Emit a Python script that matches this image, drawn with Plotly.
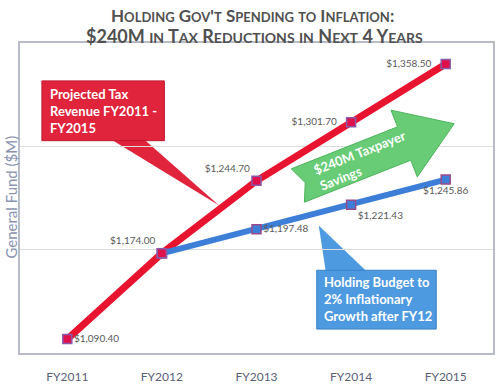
import math
import plotly.graph_objects as go

years = ["FY2011", "FY2012", "FY2013", "FY2014", "FY2015"]
revenue = [1090.40, 1174.00, 1244.70, 1301.70, 1358.50]
budget_years = ["FY2012", "FY2013", "FY2014", "FY2015"]
budget = [1174.00, 1197.48, 1221.43, 1245.86]

W, H = 500, 389
L, R, T, B = 20, 5, 43, 35
PW, PH = W - L - R, H - T - B

def px(x):
    return (x - L) / PW

def py(y):
    return (H - B - y) / PH

def fmt(v):
    return "${:,.2f}".format(v)

rev_pos = ["middle right", "top left", "top left", "middle left", "middle left"]
rev_text = []
for v, p in zip(revenue, rev_pos):
    t = fmt(v)
    if p == "middle left":
        t = t + "&nbsp;&nbsp;&nbsp;"
    rev_text.append(t)

fig = go.Figure()

fig.add_trace(go.Scatter(
    x=years, y=revenue, mode="lines+markers+text",
    line=dict(color="#e8132f", width=7),
    marker=dict(symbol="square", size=9, color="#e0104a",
                line=dict(color="#8a5aa8", width=1.5)),
    text=rev_text,
    textposition=rev_pos,
    textfont=dict(family="Lato, sans-serif", size=10, color="#5a5a5a"),
    showlegend=False, cliponaxis=False,
))
fig.add_trace(go.Scatter(
    x=budget_years, y=budget, mode="lines+markers+text",
    line=dict(color="#3d7fd8", width=6),
    marker=dict(symbol="square", size=9, color="#3d7fd8",
                line=dict(color="#9a4a8a", width=1.5)),
    text=[""] + [fmt(v) for v in budget[1:]],
    textposition=["top left", "middle right", "bottom right", "bottom center"],
    textfont=dict(family="Lato, sans-serif", size=10, color="#5a5a5a"),
    showlegend=False, cliponaxis=False,
))
fig.add_trace(go.Scatter(
    x=years[1:2], y=revenue[1:2], mode="markers",
    marker=dict(symbol="square", size=9, color="#e0104a",
                line=dict(color="#8a5aa8", width=1.5)),
    showlegend=False, hoverinfo="skip",
))

shapes = []
def poly(pts):
    return "M " + " L ".join("{:.4f},{:.4f}".format(px(a), py(b)) for a, b in pts) + " Z"

shapes.append(dict(type="path", xref="paper", yref="paper",
                   path=poly([(112, 140), (145, 140), (220, 206)]),
                   fillcolor="#e0243c", line=dict(width=0), layer="below"))
shapes.append(dict(type="rect", xref="paper", yref="paper",
                   x0=px(42), x1=px(165), y0=py(141), y1=py(81),
                   fillcolor="#e0243c", line=dict(color="#c01830", width=1), layer="below"))
shapes.append(dict(type="path", xref="paper", yref="paper",
                   path=poly([(327, 272), (368, 272), (320, 226)]),
                   fillcolor="#4e9ae0", line=dict(width=0), layer="below"))
shapes.append(dict(type="rect", xref="paper", yref="paper",
                   x0=px(318), x1=px(438), y0=py(330), y1=py(271),
                   fillcolor="#4e9ae0", line=dict(color="#3a80c8", width=1), layer="below"))
tail = (299, 186)
tip = (456, 124)
ang = math.atan2(tip[1] - tail[1], tip[0] - tail[0])
Lg = math.hypot(tip[0] - tail[0], tip[1] - tail[1])
ux, uy = math.cos(ang), math.sin(ang)
vx, vy = -uy, ux
def loc(u, v):
    return (tail[0] + u * ux + v * vx, tail[1] + u * uy + v * vy)
hw, hh, hl, notch = 18, 36, 54, 8
pts = [loc(0, -hw), loc(Lg - hl, -hw), loc(Lg - hl, -hh), loc(Lg, 0),
       loc(Lg - hl, hh), loc(Lg - hl, hw), loc(0, hw), loc(notch, 0)]
shapes.append(dict(type="path", xref="paper", yref="paper", path=poly(pts),
                   fillcolor="#68cc76", line=dict(color="#4db45c", width=1)))

annotations = [
    dict(x=px(48), y=py(111), xref="paper", yref="paper", xanchor="left", yanchor="middle",
         align="left", showarrow=False,
         text="<b>Projected Tax<br>Revenue FY2011 -<br>FY2015</b>",
         font=dict(family="Lato, sans-serif", size=13, color="white")),
    dict(x=px(323), y=py(300), xref="paper", yref="paper", xanchor="left", yanchor="middle",
         align="left", showarrow=False,
         text="<b>Holding Budget to<br>2% Inflationary<br>Growth after FY12</b>",
         font=dict(family="Lato, sans-serif", size=13, color="white")),
    dict(x=px(364), y=py(161), xref="paper", yref="paper", xanchor="center", yanchor="middle",
         align="left", showarrow=False, textangle=math.degrees(ang),
         text="<b>$240M Taxpayer<br>Savings</b>",
         font=dict(family="Lato, sans-serif", size=13, color="white")),
    dict(x=px(10), y=py(198), xref="paper", yref="paper", xanchor="center", yanchor="middle",
         showarrow=False, textangle=-90, text="General Fund ($M)",
         font=dict(family="Lato, sans-serif", size=15, color="#8a93b0")),
]

def sc(s, small=14):
    out = []
    for word in s.split(" "):
        w = ""
        for ch in word:
            if ch.islower():
                w += "<span style='font-size:%dpx'>%s</span>" % (small, ch.upper())
            else:
                w += ch
        out.append(w)
    return " ".join(out)

annotations.append(dict(x=px(253), y=py(15), xref="paper", yref="paper",
                        xanchor="center", yanchor="middle", showarrow=False,
                        text="<b>" + sc("Holding Gov't Spending to Inflation:", 13) + "</b>",
                        font=dict(family="Lato, sans-serif", size=17, color="#505050")))
annotations.append(dict(x=px(255), y=py(36), xref="paper", yref="paper",
                        xanchor="center", yanchor="middle", showarrow=False,
                        text="<b>" + sc("$240M in Tax Reductions in Next 4 Years", 14) + "</b>",
                        font=dict(family="Lato, sans-serif", size=18, color="#505050")))

fig.update_layout(
    width=W, height=H,
    margin=dict(l=L, r=R, t=T, b=B),
    paper_bgcolor="white", plot_bgcolor="white",
    shapes=shapes, annotations=annotations,
    xaxis=dict(type="category", range=[-0.5, 4.5], showgrid=False,
               showline=True, linecolor="#b8bcc8", linewidth=1.5, mirror=True,
               ticks="", ticklabelstandoff=12,
               tickfont=dict(family="Lato, sans-serif", size=12, color="#5a5f7a")),
    yaxis=dict(range=[1076.8, 1379], tickvals=[1177.5, 1278.5], showticklabels=False,
               gridcolor="#dcdcdc", showline=True, linecolor="#b8bcc8", linewidth=1.5,
               mirror=True, zeroline=False, ticks=""),
)

fig.write_html("out.html", config={"displayModeBar": False},
               post_script="document.body.style.margin='0';")
